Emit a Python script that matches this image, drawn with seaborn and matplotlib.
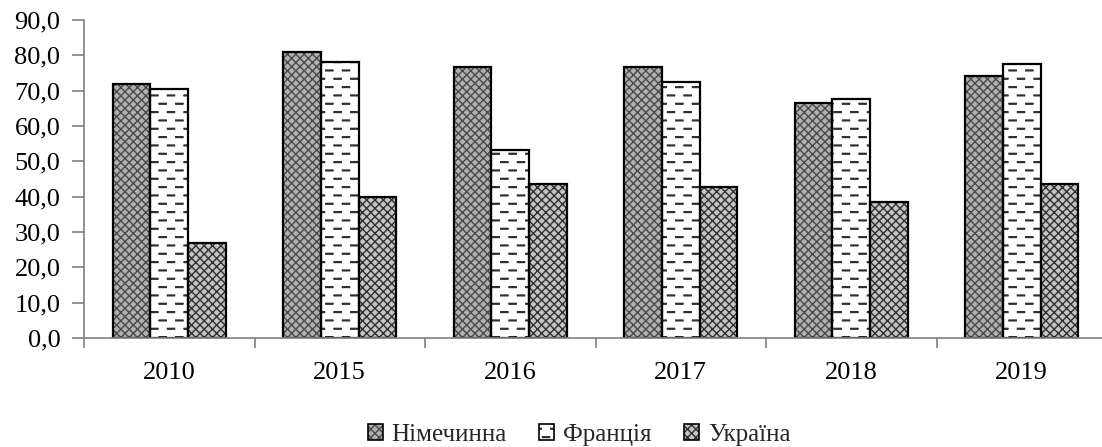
import numpy as np
import pandas as pd
import matplotlib
matplotlib.use("Agg")
import matplotlib.pyplot as plt
import matplotlib.hatch as mhatch
from matplotlib.path import Path
from matplotlib.patches import Rectangle, Patch
from matplotlib.legend_handler import HandlerTuple
import seaborn as sns

# ---------------- data ----------------
years = ["2010", "2015", "2016", "2017", "2018", "2019"]
countries = ["Німечинна", "Франція", "Україна"]
germany = [72.0, 81.0, 76.7, 76.7, 66.6, 74.1]
france = [70.6, 78.0, 53.1, 72.5, 67.6, 77.5]
ukraine = [27.0, 40.0, 43.5, 42.6, 38.5, 43.5]
yticks = [0, 10, 20, 30, 40, 50, 60, 70, 80, 90]


# ---------------- custom dashed hatch (replaces the '-' hatch) ----------------
class DashHatch(mhatch.HatchPatternBase):
    rows = 12
    cols = 6
    dash = 0.42

    def __init__(self, hatch, density):
        self.on = hatch.count("-") > 0
        self.num_vertices = self.rows * self.cols * 4 if self.on else 0

    def set_vertices_and_codes(self, vertices, codes):
        if not self.on:
            return
        k = 0
        for i in range(self.rows):
            y = (i + 0.5) / self.rows
            phase = 0.05 if i % 2 == 0 else 0.55
            for j in range(self.cols):
                s = (j + phase) / self.cols
                e = s + self.dash / self.cols
                for dy in (0.0, 0.008):
                    vertices[k] = (s, y + dy)
                    vertices[k + 1] = (e, y + dy)
                    codes[k] = Path.MOVETO
                    codes[k + 1] = Path.LINETO
                    k += 2


mhatch._hatch_types = [DashHatch if t is mhatch.HorizontalHatch else t
                       for t in mhatch._hatch_types]

# ---------------- style ----------------
sns.set_style("white")
plt.rcParams["font.family"] = ["Liberation Serif", "DejaVu Serif"]
plt.rcParams["hatch.linewidth"] = 1.0

df = pd.DataFrame({
    "year": years * 3,
    "country": [countries[0]] * 6 + [countries[1]] * 6 + [countries[2]] * 6,
    "value": germany + france + ukraine,
})

styles = {
    "Німечинна": dict(face="#b0b0b0", hc="#4a4a4a", hatch="xxxx"),
    "Франція": dict(face="#ffffff", hc="#303030", hatch="-"),
    "Україна": dict(face="#c4c4c4", hc="#303030", hatch="xxxx"),
}

fig = plt.figure(figsize=(11.02, 4.47), dpi=100)
ax = fig.add_axes([84 / 1102, 109 / 447, 1023 / 1102, 318 / 447])

sns.barplot(data=df, x="year", y="value", hue="country", order=years,
            hue_order=countries, palette=[styles[c]["face"] for c in countries],
            width=0.664, errorbar=None, saturation=1, legend=False, ax=ax)

for cont, c in zip(ax.containers, countries):
    st = styles[c]
    for bar in cont:
        bar.set_facecolor(st["face"])
        bar.set_edgecolor(st["hc"])
        bar.set_hatch(st["hatch"])
        bar.set_linewidth(0)
        ax.add_patch(Rectangle((bar.get_x(), bar.get_y()), bar.get_width(),
                               bar.get_height(), fill=False, edgecolor="black",
                               linewidth=1.6, zorder=bar.get_zorder() + 0.1))

ax.set_ylim(0, 90)
ax.set_xlim(-0.5, len(years) - 0.5)
ax.set_yticks(yticks)
ax.set_yticklabels([f"{v:.1f}".replace(".", ",") for v in yticks])
ax.set_xticks(np.arange(-0.5, len(years), 1.0), minor=True)
ax.set_xlabel("")
ax.set_ylabel("")

for side in ("top", "right"):
    ax.spines[side].set_visible(False)
for side in ("left", "bottom"):
    ax.spines[side].set_color("#808080")
    ax.spines[side].set_linewidth(1.2)

ax.tick_params(axis="y", which="major", left=True, direction="out", length=9,
               width=1.2, color="#808080", pad=8, labelsize=19, labelcolor="black")
ax.tick_params(axis="x", which="major", bottom=True, length=0, pad=17,
               labelsize=19, labelcolor="black")
ax.tick_params(axis="x", which="minor", bottom=True, direction="out", length=7,
               width=1.2, color="#808080")

handles = []
for c in countries:
    st = styles[c]
    h1 = Patch(facecolor=st["face"], edgecolor=st["hc"], hatch=st["hatch"], linewidth=0)
    h2 = Patch(fill=False, edgecolor="black", linewidth=1.2)
    handles.append((h1, h2))

fig.legend(handles, countries, loc="center", bbox_to_anchor=(579 / 1102, 12 / 447),
           ncol=3, frameon=False, fontsize=18, handlelength=0.6, handleheight=0.6,
           handletextpad=0.35, columnspacing=1.3, borderaxespad=0,
           handler_map={tuple: HandlerTuple(ndivide=1)})

fig.savefig("out.png", dpi=100)
